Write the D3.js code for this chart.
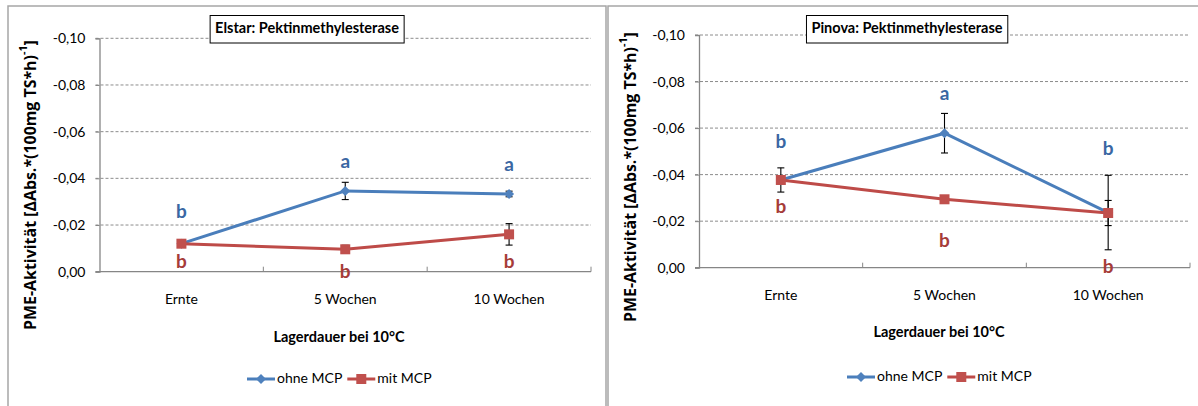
<!DOCTYPE html>
<html>
<head>
<meta charset="utf-8">
<script src="https://cdn.jsdelivr.net/npm/d3@7"></script>
<style>
  body { margin: 0; background: #fff; }
  svg { display: block; }
  text { font-family: Lato, "Open Sans", sans-serif; fill: #000; }
  text.ytitle, text.ytitle tspan { font-family: "Open Sans", Lato, sans-serif; font-weight: 700; }
</style>
</head>
<body>
<div class="chart-container"></div>
<script>
// categories and tick values
var categories = ['Ernte', '5 Wochen', '10 Wochen'];
var yTicks = [0, -0.02, -0.04, -0.06, -0.08, -0.10];
var seriesNames = ['ohne MCP', 'mit MCP'];

// Elstar
var elstarOhne = [-0.0120, -0.0346, -0.0333];
var elstarOhneErr = [0.0004, 0.0037, 0.0012];
var elstarMit = [-0.0120, -0.0096, -0.0160];
var elstarMitErr = [0.0004, 0.0017, 0.0046];
var elstarOhneLetters = ['b', 'a', 'a'];
var elstarOhneLetterY = [-0.0251, -0.0466, -0.0453];
var elstarMitLetters = ['b', 'b', 'b'];
var elstarMitLetterY = [-0.0037, 0.0006, -0.0037];

// Pinova
var pinovaOhne = [-0.0377, -0.0578, -0.0237];
var pinovaOhneErr = [0.0052, 0.0085, 0.0160];
var pinovaMit = [-0.0377, -0.0294, -0.0235];
var pinovaMitErr = [0.0004, 0.0004, 0.0054];
var pinovaOhneLetters = ['b', 'a', 'b'];
var pinovaOhneLetterY = [-0.0536, -0.0743, -0.0506];
var pinovaMitLetters = ['b', 'b', 'b'];
var pinovaMitLetterY = [-0.0257, -0.0110, 0.0001];

var colors = {
  ohneLine: '#4a7ebb', ohneMarker: '#4f81bd', ohneText: '#3a67a3',
  mitLine: '#be4b48', mitMarker: '#c0504d', mitText: '#a63c39'
};

var fmt = d3.formatLocale({decimal: ',', thousands: '.', grouping: [3], currency: ['', ''], minus: '-'}).format('.2f');

var svg = d3.select('.chart-container').append('svg')
  .attr('width', 1198)
  .attr('height', 406);

var panels = [
  {
    title: 'Elstar: Pektinmethylesterase',
    frame: [8, 6, 598, 420],
    left: 99.5, right: 591, top: 38.3, bottom: 271.7,
    ohne: elstarOhne, ohneErr: elstarOhneErr, mit: elstarMit, mitErr: elstarMitErr,
    ohneLetters: elstarOhneLetters, ohneLetterY: elstarOhneLetterY,
    mitLetters: elstarMitLetters, mitLetterY: elstarMitLetterY,
    titleX: 307, titleY: 29, xLabelY: 300, xTitleY: 338, legendY: 379, legendX: 247, yLabelX: 32, yLabelY: 185
  },
  {
    title: 'Pinova: Pektinmethylesterase',
    frame: [608, 6, 600, 420],
    left: 699, right: 1190, top: 35, bottom: 267.7,
    ohne: pinovaOhne, ohneErr: pinovaOhneErr, mit: pinovaMit, mitErr: pinovaMitErr,
    ohneLetters: pinovaOhneLetters, ohneLetterY: pinovaOhneLetterY,
    mitLetters: pinovaMitLetters, mitLetterY: pinovaMitLetterY,
    titleX: 907, titleY: 29, xLabelY: 296, xTitleY: 333, legendY: 377, legendX: 847, yLabelX: 632, yLabelY: 177
  }
];

panels.forEach(drawPanel);

function diamond(r) {
  return 'M0,' + (-r) + 'L' + r + ',0L0,' + r + 'L' + (-r) + ',0Z';
}

function drawPanel(p) {
  var g = svg.append('g');

  g.append('rect')
    .attr('x', p.frame[0]).attr('y', p.frame[1])
    .attr('width', p.frame[2]).attr('height', p.frame[3])
    .attr('fill', 'none')
    .attr('stroke', '#a6a6a6')
    .attr('stroke-width', 1.5);

  var x = d3.scaleBand().domain(categories).range([p.left, p.right]);
  var cx = d => x(d) + x.bandwidth() / 2;
  var y = d3.scaleLinear().domain([0, -0.1]).range([p.bottom, p.top]);

  // gridlines
  g.selectAll('.grid')
    .data(yTicks.filter(t => t !== 0))
    .enter().append('line')
      .attr('x1', p.left - 4).attr('x2', p.right)
      .attr('y1', d => y(d)).attr('y2', d => y(d))
      .attr('stroke', '#8c8c8c')
      .attr('stroke-width', 1)
      .attr('stroke-dasharray', '3,2');

  // y axis
  var gY = g.append('g')
    .attr('transform', `translate(${p.left},0)`)
    .call(d3.axisLeft(y).tickValues(yTicks).tickFormat(fmt).tickSize(4).tickPadding(10));
  gY.select('.domain').attr('stroke', '#868686').attr('stroke-width', 1.3);
  gY.selectAll('.tick line').attr('stroke', '#868686');
  gY.selectAll('.tick text')
    .attr('font-family', 'Lato, sans-serif')
    .attr('font-size', 14)
    .attr('fill', '#000');

  // x axis
  g.append('line')
    .attr('x1', p.left - 4).attr('x2', p.right)
    .attr('y1', y(0)).attr('y2', y(0))
    .attr('stroke', '#868686')
    .attr('stroke-width', 1.3);
  g.selectAll('.xtick')
    .data(categories)
    .enter().append('line')
      .attr('x1', d => x(d) + x.bandwidth()).attr('x2', d => x(d) + x.bandwidth())
      .attr('y1', y(0)).attr('y2', y(0) - 5)
      .attr('stroke', '#868686');
  g.selectAll('.xlabel')
    .data(categories)
    .enter().append('text')
      .attr('x', cx)
      .attr('y', p.xLabelY)
      .attr('text-anchor', 'middle')
      .attr('dominant-baseline', 'middle')
      .attr('font-size', 14)
      .text(d => d);

  g.append('text')
    .attr('x', (p.frame[0] + p.frame[0] + 598) / 2 + 32)
    .attr('y', p.xTitleY)
    .attr('text-anchor', 'middle')
    .attr('dominant-baseline', 'middle')
    .attr('font-size', 14.5)
    .attr('font-weight', 'bold')
    .text('Lagerdauer bei 10°C');

  // y axis title, sized so it spans ~290px like the original
  var yt = g.append('text')
    .attr('class', 'ytitle')
    .attr('transform', `translate(${p.yLabelX},${p.yLabelY}) rotate(-90)`)
    .attr('text-anchor', 'middle')
    .attr('dominant-baseline', 'middle')
    .style('font-size', '12px');
  yt.append('tspan').text('PME-Aktivität [ΔAbs.*(100mg  TS*h)');
  yt.append('tspan').attr('baseline-shift', 'super').style('font-size', '0.68em').text('-1');
  yt.append('tspan').text(']');
  var len = yt.node().getComputedTextLength();
  if (len > 0) yt.style('font-size', (12 * 290 / len).toFixed(2) + 'px');

  // title box
  var tb = g.append('g');
  var tt = tb.append('text')
    .attr('x', p.titleX)
    .attr('y', p.titleY)
    .attr('text-anchor', 'middle')
    .attr('dominant-baseline', 'middle')
    .attr('font-size', 14.5)
    .attr('font-weight', 'bold')
    .text(p.title);
  var bb = tt.node().getBBox();
  tb.insert('rect', 'text')
    .attr('x', bb.x - 5).attr('y', p.titleY - 13.5)
    .attr('width', bb.width + 10).attr('height', 27.5)
    .attr('fill', '#fff')
    .attr('stroke', '#000')
    .attr('stroke-width', 1);

  var line = d3.line()
    .x((d, i) => cx(categories[i]))
    .y(d => y(d));

  var series = [
    {vals: p.ohne, err: p.ohneErr, color: colors.ohneLine, marker: colors.ohneMarker, type: 'diamond'},
    {vals: p.mit, err: p.mitErr, color: colors.mitLine, marker: colors.mitMarker, type: 'square'}
  ];

  series.forEach(s => {
    g.append('path')
      .datum(s.vals)
      .attr('d', line)
      .attr('fill', 'none')
      .attr('stroke', s.color)
      .attr('stroke-width', 3);
  });

  series.forEach(s => {
    var eb = g.append('g');
    s.vals.forEach((v, i) => {
      var xc = cx(categories[i]);
      var y1 = y(v - s.err[i]), y2 = y(v + s.err[i]);
      eb.append('line').attr('x1', xc).attr('x2', xc).attr('y1', y1).attr('y2', y2);
      eb.append('line').attr('x1', xc - 3.5).attr('x2', xc + 3.5).attr('y1', y1).attr('y2', y1);
      eb.append('line').attr('x1', xc - 3.5).attr('x2', xc + 3.5).attr('y1', y2).attr('y2', y2);
    });
    eb.selectAll('line').attr('stroke', '#000').attr('stroke-width', 1.1);
  });

  series.forEach(s => {
    var m = g.append('g');
    s.vals.forEach((v, i) => {
      var xc = cx(categories[i]);
      if (s.type === 'diamond') {
        m.append('path')
          .attr('d', diamond(5))
          .attr('transform', `translate(${xc},${y(v)})`)
          .attr('fill', s.marker);
      } else {
        m.append('rect')
          .attr('x', xc - 5).attr('y', y(v) - 5)
          .attr('width', 10).attr('height', 10)
          .attr('fill', s.marker);
      }
    });
  });

  // significance letters
  var letters = [
    {txt: p.ohneLetters, ys: p.ohneLetterY, color: colors.ohneText},
    {txt: p.mitLetters, ys: p.mitLetterY, color: colors.mitText}
  ];
  letters.forEach(l => {
    g.selectAll(null)
      .data(l.txt)
      .enter().append('text')
        .attr('x', (d, i) => cx(categories[i]))
        .attr('y', (d, i) => y(l.ys[i]))
        .attr('text-anchor', 'middle')
        .attr('dominant-baseline', 'middle')
        .attr('font-size', 19)
        .attr('font-weight', 'bold')
        .style('fill', l.color)
        .text(d => d);
  });

  // legend
  var lg = g.append('g').attr('transform', `translate(${p.legendX},${p.legendY})`);
  var lx = 0;
  seriesNames.forEach((name, i) => {
    var s = series[i];
    lg.append('line')
      .attr('x1', lx).attr('x2', lx + 28)
      .attr('y1', 0).attr('y2', 0)
      .attr('stroke', s.color)
      .attr('stroke-width', 3);
    if (s.type === 'diamond') {
      lg.append('path').attr('d', diamond(5)).attr('transform', `translate(${lx + 14},0)`).attr('fill', s.marker);
    } else {
      lg.append('rect').attr('x', lx + 9).attr('y', -5).attr('width', 10).attr('height', 10).attr('fill', s.marker);
    }
    var t = lg.append('text')
      .attr('x', lx + 30)
      .attr('y', 0)
      .attr('dominant-baseline', 'middle')
      .attr('font-size', 14)
      .text(name);
    lx += 30 + t.node().getComputedTextLength() + 5;
  });
}
</script>
</body>
</html>
